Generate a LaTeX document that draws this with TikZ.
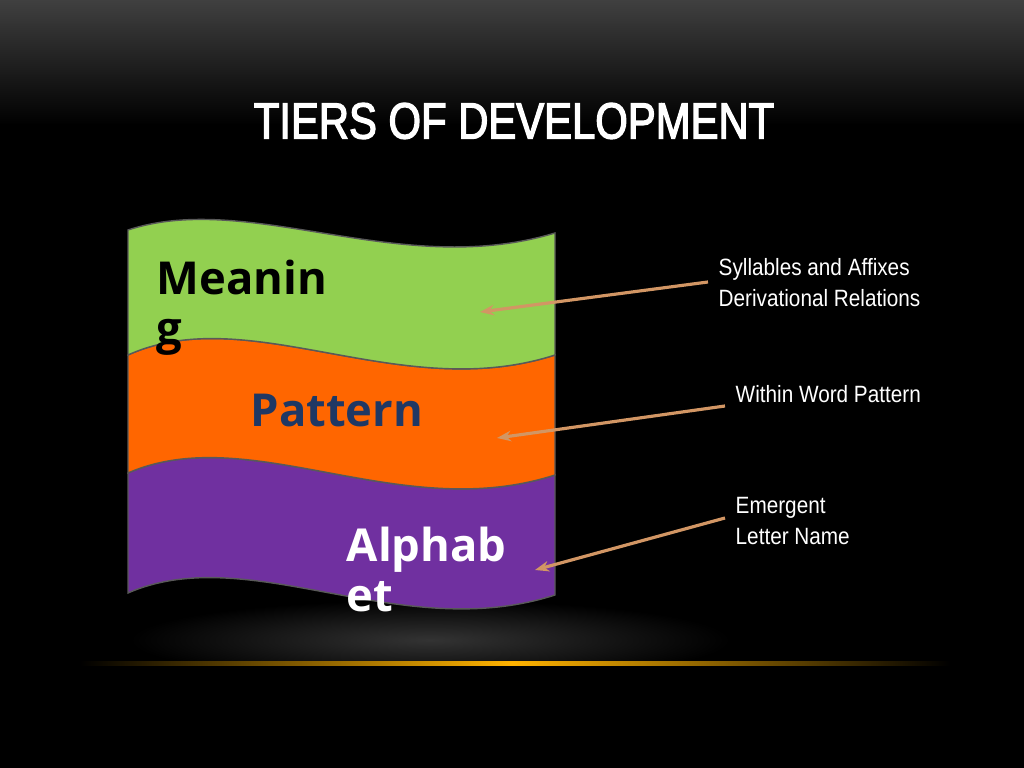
\documentclass[tikz,border=0pt]{standalone}
\usepackage{fontspec}
\setmainfont{Liberation Sans}
\newfontfamily\titlefont[FakeStretch=0.82,FakeBold=2.5]{Liberation Sans}
\newfontfamily\narrowfont[FakeStretch=0.88]{Liberation Sans}
\newfontfamily\boldsans{Open Sans}
\usetikzlibrary{arrows.meta}
\definecolor{gr}{RGB}{146,208,80}
\definecolor{org}{RGB}{255,102,0}
\definecolor{pur}{RGB}{112,48,160}
\definecolor{arr}{RGB}{210,150,100}
\definecolor{navy}{RGB}{31,56,100}
\tikzset{band/.style={draw=gray!70!black,line width=0.4pt},
 lab/.style={font=\narrowfont\fontsize{6.7}{8.6}\selectfont,text=white,align=left,anchor=north west,inner sep=0},
 big/.style={font=\boldsans\bfseries\fontsize{12.9}{14.2}\selectfont,align=left,anchor=north west,inner sep=0},
 pt/.style={-{Stealth[length=4pt,width=3pt]},arr,line width=0.9pt}}
\begin{document}
\begin{tikzpicture}[x=0.01cm,y=-0.01cm]
\useasboundingbox (0,0) rectangle (1024,768);
\shade[top color=black!75,bottom color=black,middle color=black] (0,0) rectangle (1024,250);
\fill[black] (0,250) rectangle (1024,768);
\shade[inner color=black!80, outer color=black] (430,640) ellipse (300 and 40);
\fill[black] (0,664) rectangle (1024,768);
\shade[left color=black,right color=orange!60!yellow] (80,662) rectangle (512,666);
\shade[right color=black,left color=orange!60!yellow] (512,662) rectangle (950,666);
\node[font=\titlefont\fontsize{14.5}{17}\selectfont,text=white] (title) at (514,121) {TIERS OF DEVELOPMENT};
\draw[band,fill=pur] (128,473) .. controls (250,420) and (400,525) .. (555,475) -- (555,595) .. controls (400,645) and (250,540) .. (128,593) -- cycle;
\draw[band,fill=org] (128,355) .. controls (250,300) and (400,405) .. (555,355) -- (555,475) .. controls (400,525) and (250,420) .. (128,473) -- cycle;
\draw[band,fill=gr] (128,230) .. controls (250,190) and (400,280) .. (555,233) -- (555,355) .. controls (400,405) and (250,300) .. (128,355) -- cycle;
\node[big,text=black] (m) at (156,259) {Meanin\\g};
\node[big,text=navy] (p) at (250,393) {Pattern};
\node[big,text=white] (a) at (346,526) {Alphab\\et};
\node[lab] (l1) at (718,258) {Syllables and Affixes\\Derivational Relations};
\node[lab] (l2) at (735,385) {Within Word Pattern};
\node[lab] (l3) at (735,497) {Emergent\\Letter Name};
\coordinate (s1) at (708,282);
\coordinate (s2) at (725,406);
\coordinate (s3) at (725,518);
\coordinate (t1) at (480,312);
\coordinate (t2) at (497,438);
\coordinate (t3) at (535,570);
\draw[pt] (s1) -- (t1);
\draw[pt] (s2) -- (t2);
\draw[pt] (s3) -- (t3);
\end{tikzpicture}
\end{document}
